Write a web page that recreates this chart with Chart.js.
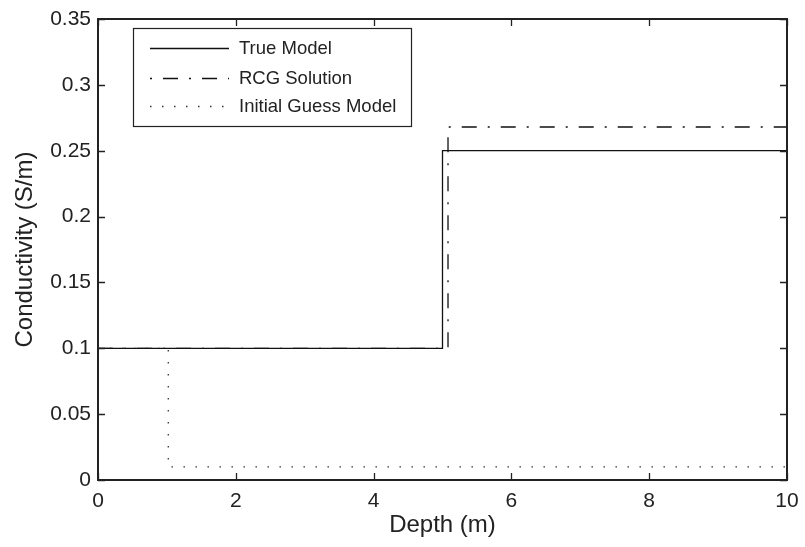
<!DOCTYPE html>
<html>
<head>
  <title>Conductivity vs Depth</title>
  <script src="https://cdn.jsdelivr.net/npm/chart.js"></script>
  <style>
    html, body { margin: 0; padding: 0; background: #fff; }
    #wrap { width: 805px; height: 547px; }
  </style>
</head>
<body>
  <div id="wrap"><canvas id="condChart"></canvas></div>

  <script>
    // step models: each point starts a new layer (value holds until next depth)
    const trueDepth = [0, 5, 10];
    const trueCond = [0.1, 0.25, 0.25];
    const rcgDepth = [0, 5.08, 10];
    const rcgCond = [0.1, 0.268, 0.268];
    const guessDepth = [0, 1.02, 10];
    const guessCond = [0.1, 0.01, 0.01];

    const xTicks = [0, 2, 4, 6, 8, 10];
    const yTicks = [0, 0.05, 0.1, 0.15, 0.2, 0.25, 0.3, 0.35];

    const FONT = "'Liberation Sans', Arial, Helvetica, sans-serif";

    const toPts = (xs, ys) => xs.map((x, i) => ({ x, y: ys[i] }));

    // MATLAB style box, inward ticks and legend
    const matlabAxes = {
      id: 'matlabAxes',
      afterDraw(chart) {
        const { ctx, chartArea: a, scales } = chart;
        ctx.save();
        ctx.strokeStyle = '#222';
        ctx.lineWidth = 1.3;
        const tl = 7;
        ctx.beginPath();
        xTicks.forEach(v => {
          const px = Math.round(scales.x.getPixelForValue(v)) + 0.5;
          ctx.moveTo(px, a.bottom); ctx.lineTo(px, a.bottom - tl);
          ctx.moveTo(px, a.top); ctx.lineTo(px, a.top + tl);
        });
        yTicks.forEach(v => {
          const py = Math.round(scales.y.getPixelForValue(v)) + 0.5;
          ctx.moveTo(a.left, py); ctx.lineTo(a.left + tl, py);
          ctx.moveTo(a.right, py); ctx.lineTo(a.right - tl, py);
        });
        ctx.stroke();
        ctx.lineWidth = 2;
        ctx.strokeRect(a.left, a.top, a.right - a.left, a.bottom - a.top);

        // legend
        const lx = 133, ly = 28, lw = 278, lh = 98;
        ctx.fillStyle = '#fff';
        ctx.fillRect(lx, ly, lw, lh);
        ctx.lineWidth = 1.2;
        ctx.strokeStyle = '#222';
        ctx.strokeRect(lx + 0.5, ly + 0.5, lw, lh);
        const rows = [48, 78, 106];
        ctx.font = '18.5px ' + FONT;
        ctx.textBaseline = 'middle';
        chart.data.datasets.forEach((ds, i) => {
          const y = rows[i] + 0.5;
          ctx.strokeStyle = ds.borderColor;
          ctx.lineWidth = ds.borderWidth;
          ctx.setLineDash(ds.borderDash || []);
          ctx.lineDashOffset = i === 1 ? 26 : 0;
          ctx.beginPath();
          ctx.moveTo(150, y); ctx.lineTo(229, y);
          ctx.stroke();
          ctx.setLineDash([]);
          ctx.fillStyle = '#222';
          ctx.fillText(ds.label, 239, rows[i] + 1);
        });
        ctx.restore();
      }
    };

    const fmt = v => String(+Number(v).toFixed(2));

    new Chart(document.getElementById('condChart'), {
      type: 'line',
      data: {
        datasets: [
          {
            label: 'True Model',
            data: toPts(trueDepth, trueCond),
            stepped: 'before',
            borderColor: '#111',
            borderWidth: 1.3,
            pointRadius: 0
          },
          {
            label: 'RCG Solution',
            data: toPts(rcgDepth, rcgCond),
            stepped: 'before',
            borderColor: '#111',
            borderWidth: 1.3,
            borderDash: [15, 11, 2, 11],
            pointRadius: 0
          },
          {
            label: 'Initial Guess Model',
            data: toPts(guessDepth, guessCond),
            stepped: 'before',
            borderColor: '#333',
            borderWidth: 1.3,
            borderDash: [1.5, 10.5],
            pointRadius: 0
          }
        ]
      },
      options: {
        responsive: true,
        maintainAspectRatio: false,
        animation: false,
        layout: { padding: { left: 0, top: 19, right: 18, bottom: 0 } },
        plugins: { legend: { display: false }, tooltip: { enabled: false } },
        scales: {
          x: {
            type: 'linear',
            min: 0, max: 10,
            grid: { display: false },
            border: { display: false },
            afterBuildTicks: s => { s.ticks = xTicks.map(v => ({ value: v })); },
            afterFit: s => { s.height = 67; },
            ticks: { color: '#222', font: { family: FONT, size: 21 }, padding: 1, maxRotation: 0, callback: fmt },
            title: { display: true, text: 'Depth (m)', color: '#222', font: { family: FONT, size: 24 }, padding: { top: 0, bottom: 7 } }
          },
          y: {
            min: 0, max: 0.35,
            grid: { display: false },
            border: { display: false },
            afterBuildTicks: s => { s.ticks = yTicks.map(v => ({ value: v })); },
            afterFit: s => { s.width = 98; },
            ticks: { color: '#222', font: { family: FONT, size: 21 }, padding: -1, callback: fmt },
            title: { display: true, text: 'Conductivity (S/m)', color: '#222', font: { family: FONT, size: 24 }, padding: { top: 11, bottom: 0 } }
          }
        }
      },
      plugins: [matlabAxes]
    });
  </script>
</body>
</html>
